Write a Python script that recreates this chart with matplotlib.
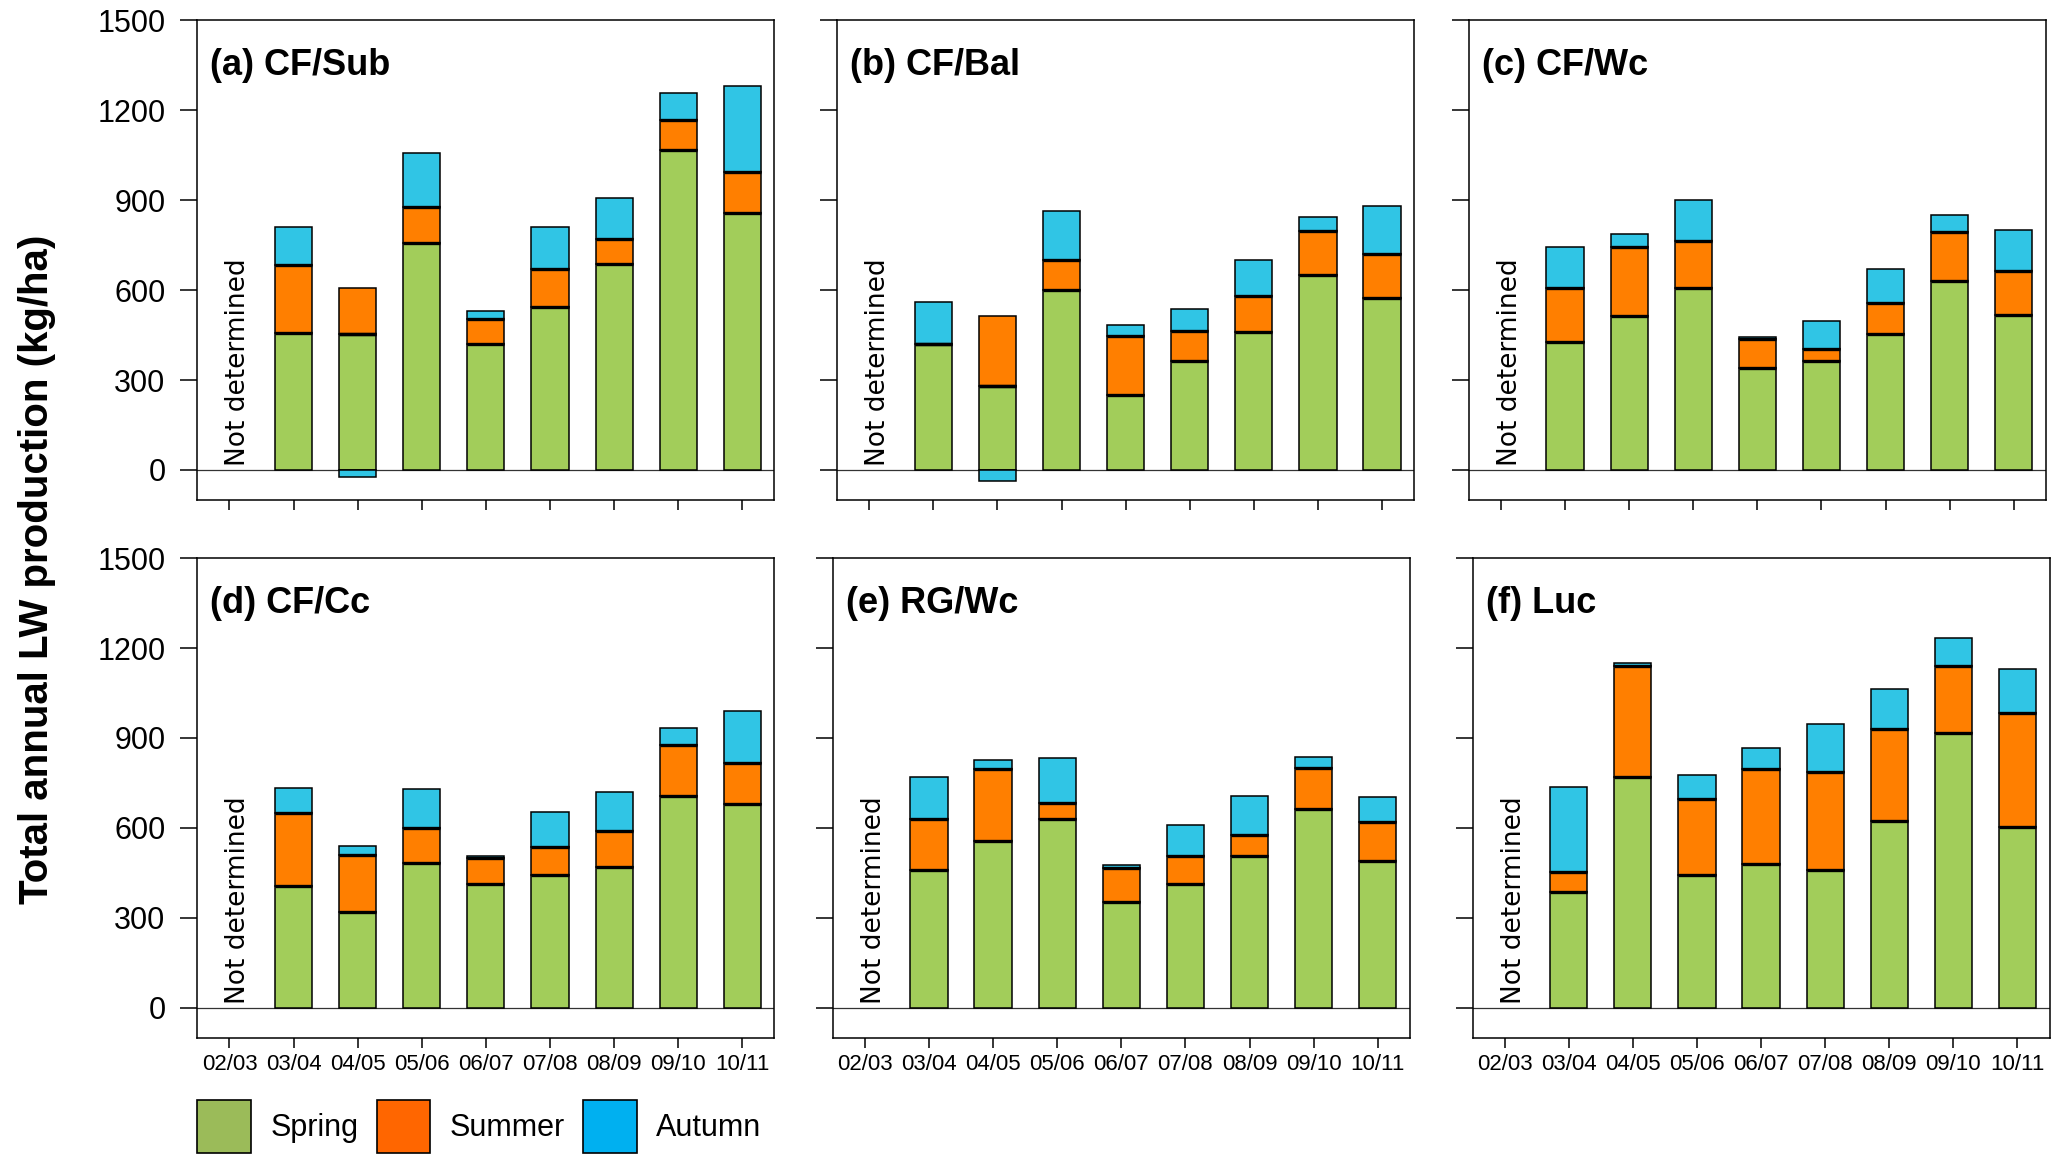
import numpy as np
import matplotlib.pyplot as plt
from matplotlib.patches import Patch

# Annual liveweight production by season, 03/04 to 10/11 (02/03 not measured)
years = ['02/03', '03/04', '04/05', '05/06', '06/07', '07/08', '08/09', '09/10', '10/11']
panels = ['(a) CF/Sub', '(b) CF/Bal', '(c) CF/Wc', '(d) CF/Cc', '(e) RG/Wc', '(f) Luc']

spring_a = [457, 455, 758, 421, 542, 686, 1068, 858]
summer_a = [228, 153, 120, 84, 128, 85, 100, 137]
autumn_a = [126, -25, 181, 25, 139, 135, 89, 287]

spring_b = [420, 281, 599, 251, 362, 461, 651, 573]
summer_b = [0, 234, 100, 195, 101, 119, 146, 146]
autumn_b = [141, -36, 164, 39, 75, 119, 48, 160]

spring_c = [427, 513, 607, 341, 364, 452, 632, 517]
summer_c = [180, 232, 156, 97, 40, 104, 162, 147]
autumn_c = [136, 41, 137, 5, 94, 114, 55, 136]

spring_d = [406, 320, 483, 413, 442, 468, 708, 679]
summer_d = [243, 190, 116, 85, 95, 120, 169, 139]
autumn_d = [85, 30, 131, 9, 116, 131, 57, 172]

spring_e = [460, 555, 631, 352, 412, 505, 664, 488]
summer_e = [170, 240, 51, 114, 95, 70, 136, 130]
autumn_e = [140, 33, 150, 11, 101, 131, 37, 86]

spring_f = [385, 769, 442, 480, 460, 623, 916, 603]
summer_f = [69, 371, 255, 316, 327, 308, 225, 379]
autumn_f = [282, 11, 80, 70, 161, 131, 92, 148]

spring_all = [spring_a, spring_b, spring_c, spring_d, spring_e, spring_f]
summer_all = [summer_a, summer_b, summer_c, summer_d, summer_e, summer_f]
autumn_all = [autumn_a, autumn_b, autumn_c, autumn_d, autumn_e, autumn_f]

green = '#a2cd5a'
orange = '#ff7f00'
cyan = '#30c5e5'

plt.rcParams['font.family'] = ['Liberation Sans', 'DejaVu Sans']

fig = plt.figure(figsize=(20.65, 11.6), dpi=100)

lefts = [0.0956, 0.4054, 0.7113, 0.0956, 0.4033, 0.7131]
bottoms = [0.569, 0.569, 0.569, 0.1054, 0.1054, 0.1054]
w_ax = 0.2794
h_ax = 0.4135

x = np.arange(1, 9)
bw = 0.58

for i in range(6):
    ax = fig.add_axes([lefts[i], bottoms[i], w_ax, h_ax])
    sp = np.array(spring_all[i], dtype=float)
    su = np.array(summer_all[i], dtype=float)
    au = np.array(autumn_all[i], dtype=float)
    au_bottom = np.where(au < 0, 0, sp + su)

    kw = dict(width=bw, edgecolor='black', linewidth=1.1, zorder=3)
    ax.bar(x, sp, color=green, **kw)
    ax.bar(x, su, bottom=sp, color=orange, **kw)
    ax.bar(x, au, bottom=au_bottom, color=cyan, **kw)
    # heavier lines where the seasons meet
    ax.hlines(sp, x - bw / 2, x + bw / 2, color='black', lw=2.4, zorder=4)
    ax.hlines(np.where(au < 0, sp, sp + su), x - bw / 2, x + bw / 2,
              color='black', lw=2.4, zorder=4)

    ax.axhline(0, color='#333333', lw=0.9, zorder=2)
    ax.set_xlim(-0.5, 8.5)
    ax.set_ylim(-100, 1500)
    ax.set_yticks([0, 300, 600, 900, 1200, 1500])
    ax.set_xticks(range(9))

    for s in ax.spines.values():
        s.set_linewidth(1.1)
    ax.tick_params(axis='y', direction='out', length=12, width=1.1, pad=11,
                   labelsize=22)
    ax.tick_params(axis='x', direction='out', length=7, width=1.1, pad=5,
                   labelsize=16)

    if i % 3 == 0:
        ax.set_yticklabels([str(v) for v in [0, 300, 600, 900, 1200, 1500]])
    else:
        ax.set_yticklabels([])
    if i >= 3:
        ax.set_xticklabels(years)
    else:
        ax.set_xticklabels([])

    ax.text(0.0225, 0.885, panels[i], transform=ax.transAxes, fontsize=26,
            fontweight='bold', ha='left', va='baseline')
    ax.text(0.14, 12, 'Not determined', rotation=90, ha='center', va='bottom',
            fontsize=19, family='DejaVu Sans', zorder=5)

fig.text(0.018, 0.509, 'Total annual LW production (kg/ha)', rotation=90,
         ha='center', va='center', fontsize=29, fontweight='bold')

handles = [Patch(facecolor='#9bbb59', edgecolor='black', linewidth=1.2),
           Patch(facecolor='#ff6600', edgecolor='black', linewidth=1.2),
           Patch(facecolor='#00b0f0', edgecolor='black', linewidth=1.2)]
fig.legend(handles, ['Spring', 'Summer', 'Autumn'], loc='upper left',
           bbox_to_anchor=(0.0956, 1 - 1100 / 1160), ncol=3, frameon=False,
           fontsize=22, handlelength=1.74, handleheight=2.3,
           handletextpad=0.65, columnspacing=0.6, borderpad=0,
           borderaxespad=0)

fig.savefig('out.png', dpi=100)
